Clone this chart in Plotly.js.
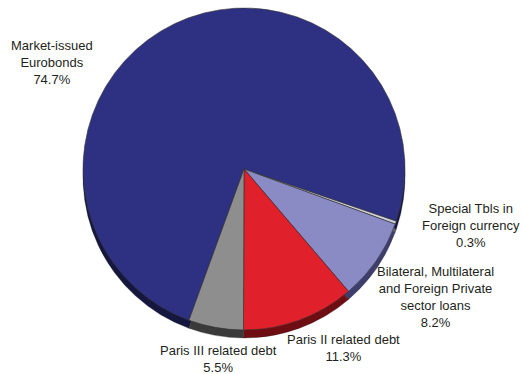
<!DOCTYPE html>
<html><head><meta charset="utf-8">
<script src="https://cdn.plot.ly/plotly-3.0.1.min.js"></script>
<style>html,body{margin:0;padding:0;background:#fff}#chart{width:523px;height:374px}</style>
</head><body><div id="chart"></div>
<script>
const categories = ["Market-issued Eurobonds","Special Tbls in Foreign currency","Bilateral, Multilateral and Foreign Private sector loans","Paris II related debt","Paris III related debt"];
const shares = [74.7, 0.3, 8.2, 11.3, 5.5];
const labelTexts = ["Market-issued<br>Eurobonds<br>74.7%","Special Tbls in<br>Foreign currency<br>0.3%","Bilateral, Multilateral<br>and Foreign Private<br>sector loans<br>8.2%","Paris II related debt<br>11.3%","Paris III related debt<br>5.5%"];
const topColors = ["#2e3182","#d0d0d8","#8a8ac4","#e0202a","#8e8e8e"];
const sideColors = ["#15173f","#606070","#3e3e6e","#6e0d12","#3a3a3a"];
const labelPos = [[52,62],[471,225],[435,297],[343,348],[218,359]];

const W=523,H=374;
const dom = {x:[83/W,405/W], y:[1-332/H, 1-6/H]};
const depth = 8;
const base = {type:"pie", labels:categories, values:shares, sort:false, direction:"clockwise",
  rotation:200, textinfo:"none", hoverinfo:"label+percent", showlegend:false};
const side = Object.assign({}, base, {
  domain:{x:dom.x, y:[dom.y[0]-depth/H, dom.y[1]-depth/H]},
  marker:{colors:sideColors, line:{color:"#222", width:0.3}}});
const top_ = Object.assign({}, base, {
  domain:dom,
  marker:{colors:topColors, line:{color:"#333", width:0.6}}});

const annotations = labelTexts.map((t,i)=>({
  text:t, x:labelPos[i][0]/W, y:1-labelPos[i][1]/H, xref:"paper", yref:"paper",
  showarrow:false, align:"center", xanchor:"center", yanchor:"middle",
  font:{family:"Liberation Sans, Arial, sans-serif", size:13, color:"#231f20"}
}));

Plotly.newPlot("chart",[side, top_],{
  width:W, height:H, margin:{l:0,r:0,t:0,b:0},
  paper_bgcolor:"#fff", annotations:annotations
},{displayModeBar:false, staticPlot:true});
</script></body></html>
